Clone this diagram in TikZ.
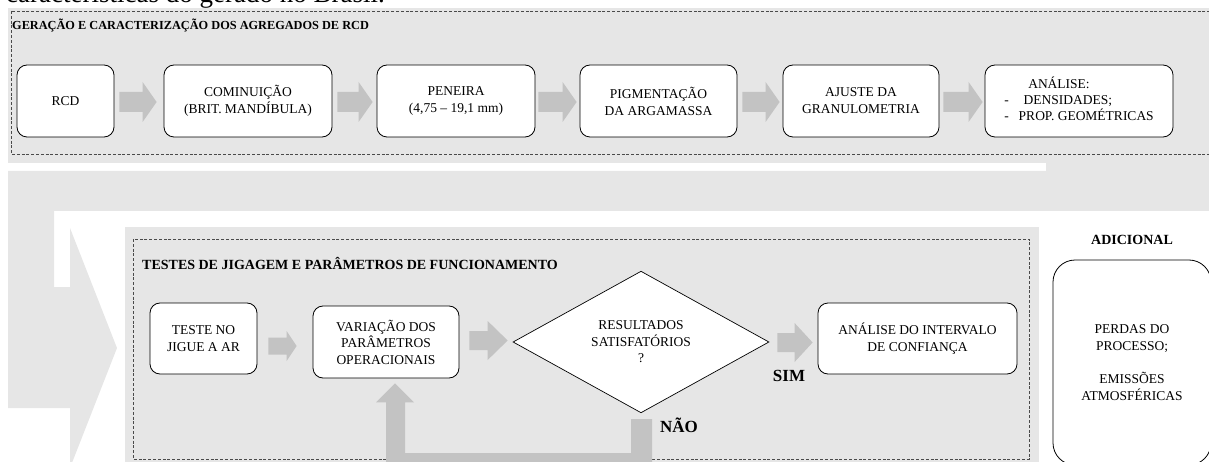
\documentclass[tikz,border=0pt]{standalone}
\usepackage{fontspec}
\setmainfont{Liberation Serif}
\usetikzlibrary{calc,shapes.geometric}

\definecolor{panelgray}{HTML}{E6E6E6}
\definecolor{arrowgray}{HTML}{C3C3C3}
\definecolor{dashgray}{HTML}{4A4A4A}

% Block arrow between two nodes:
% #1 from, #2 to, #3 start gap, #4 end gap, #5 half shaft, #6 half head,
% #7 head length, #8 vertical shift
\newcommand{\blockarrow}[8]{%
  \fill[arrowgray] let \p1=(#1.east), \p2=(#2.west),
      \p3=($(#1.east)!.5!(#2.west)+(0,#8)$) in
    (\x1+#3,\y3+#5) -- (\x2-#4-#7,\y3+#5) -- (\x2-#4-#7,\y3+#6) --
    (\x2-#4,\y3) -- (\x2-#4-#7,\y3-#6) -- (\x2-#4-#7,\y3-#5) --
    (\x1+#3,\y3-#5) -- cycle;}

\begin{document}
\begin{tikzpicture}[x=1pt,y=-1pt,
  frame/.style={draw=dashgray,line width=0.7pt,dash pattern=on 3pt off 1.8pt},
  stepbox/.style={draw=black,line width=0.8pt,fill=white,rounded corners=10pt,
    align=center,inner sep=2pt,font=\fontsize{13.5}{17}\selectfont},
  lowbox/.style={stepbox,font=\fontsize{13.5}{16.5}\selectfont},
  decision/.style={diamond,draw=black,line width=0.7pt,fill=white,inner sep=0pt,
    align=center,font=\fontsize{13.5}{16.5}\selectfont},
  heading/.style={font=\bfseries\fontsize{12.3}{14}\selectfont,inner sep=0pt,anchor=west},
  answer/.style={font=\bfseries\fontsize{17}{19}\selectfont,inner sep=0pt}]

\useasboundingbox (0,0) rectangle (1209,462);
\clip (0,0) rectangle (1209,462);

% running text of the page above the figure
\node[anchor=base west,inner sep=0pt,font=\fontsize{27}{30}\selectfont] (caption) at (6,3)
  {características do gerado no Brasil.};

% backgrounds
\fill[panelgray] (8,8) rectangle (1215,163);
\fill[panelgray] (8,171) -- (1046,171) -- (1046,163) -- (1215,163) -- (1215,211)
  -- (54,211) -- (54,287) -- (70,287) -- (70,228) -- (117,348) -- (70,468)
  -- (70,408) -- (8,408) -- cycle;
\fill[panelgray] (125,227) rectangle (1039,470);

% dashed frames
\draw[frame] (11,11) rectangle (1214,154);
\draw[frame] (133,239) rectangle (1029,459);

% headings
\node[heading] (t1) at (12,25) {GERAÇÃO E CARACTERIZAÇÃO DOS AGREGADOS DE RCD};
\node[heading,font=\bfseries\fontsize{14}{16}\selectfont] (t2) at (142,263)
  {TESTES DE JIGAGEM E PARÂMETROS DE FUNCIONAMENTO};
\node[font=\bfseries\fontsize{14}{16}\selectfont,inner sep=0pt] (t3) at (1132,240) {ADICIONAL};

% first stage
\node[stepbox,minimum width=97pt,minimum height=72pt] (rcd) at (65.5,101) {RCD};
\node[stepbox,minimum width=168pt,minimum height=72pt] (com) at (248,101)
  {COMINUIÇÃO\\(BRIT. MANDÍBULA)};
\node[stepbox,minimum width=158pt,minimum height=72pt] (pen) at (456,101)
  {PENEIRA\\(4,75 – 19,1 mm)};
\node[stepbox,minimum width=157pt,minimum height=72pt] (pig) at (658.5,101)
  {PIGMENTAÇÃO\\DA ARGAMASSA};
\node[stepbox,minimum width=156pt,minimum height=72pt] (aju) at (861,101)
  {AJUSTE DA\\GRANULOMETRIA};
\node[stepbox,minimum width=188pt,minimum height=72pt] (ana) at (1079,101)
  {\renewcommand\arraystretch{0.9}%
   \begin{tabular}{@{}l@{\hspace{10pt}}l@{}}
   \multicolumn{2}{@{}l}{\hspace{24pt}ANÁLISE:}\\
   - & \hspace{5pt}DENSIDADES;\\
   - & PROP. GEOMÉTRICAS
   \end{tabular}};

\blockarrow{rcd}{com}{5pt}{7pt}{10pt}{20pt}{14pt}{-1pt}
\blockarrow{com}{pen}{5pt}{4pt}{10pt}{20pt}{14pt}{-1pt}
\blockarrow{pen}{pig}{3pt}{3pt}{10pt}{20pt}{14pt}{-1pt}
\blockarrow{pig}{aju}{5pt}{3pt}{10pt}{20pt}{14pt}{-1pt}
\blockarrow{aju}{ana}{4pt}{2pt}{10pt}{20pt}{14pt}{-1pt}

% second stage
\node[lowbox,minimum width=107pt,minimum height=71pt] (tes) at (203.5,338.5)
  {TESTE NO\\JIGUE A AR};
\node[lowbox,minimum width=146pt,minimum height=72pt] (var) at (386,342)
  {VARIAÇÃO DOS\\PARÂMETROS\\OPERACIONAIS};
\node[decision,minimum width=256pt,minimum height=108pt] (dec) at (641,342)
  {RESULTADOS\\SATISFATÓRIOS\\?};
\node[lowbox,minimum width=199pt,minimum height=71pt] (int) at (917.5,338.5)
  {ANÁLISE DO INTERVALO\\DE CONFIANÇA};

\blockarrow{tes}{var}{11pt}{16pt}{8.5pt}{15pt}{10pt}{-5.75pt}
\blockarrow{var}{dec}{10pt}{5pt}{9.5pt}{19.5pt}{20pt}{1.5pt}
\blockarrow{dec}{int}{8pt}{5pt}{9.5pt}{19.5pt}{18pt}{-2.25pt}

% return path when the result is not satisfactory
\fill[arrowgray] let \p1=(dec.south), \p2=(var.south) in
  (\x2+9pt,\y2-5pt) -- (\x2+28pt,\y2-24pt) -- (\x2+19pt,\y2-24pt) -- (\x2+19pt,\y1-40pt)
  -- (\x1-10pt,\y1-40pt) -- (\x1-10pt,\y1-6pt) -- (\x1+11pt,\y1-6pt) -- (\x1+11pt,\y1-59pt)
  -- (\x2,\y1-59pt) -- (\x2,\y2-24pt) -- (\x2-10pt,\y2-24pt) -- cycle;

\node[answer] (sim) at (789,376) {SIM};
\node[answer] (nao) at (679,425) {NÃO};

% additional aspects
\node[draw=black,line width=0.8pt,fill=white,rounded corners=22pt,
  minimum width=158pt,minimum height=205pt,align=center,
  font=\fontsize{13.5}{16.7}\selectfont] (adi) at (1132,362.5)
  {PERDAS DO\\PROCESSO;\\[16.7pt]EMISSÕES\\ATMOSFÉRICAS};
\end{tikzpicture}
\end{document}
